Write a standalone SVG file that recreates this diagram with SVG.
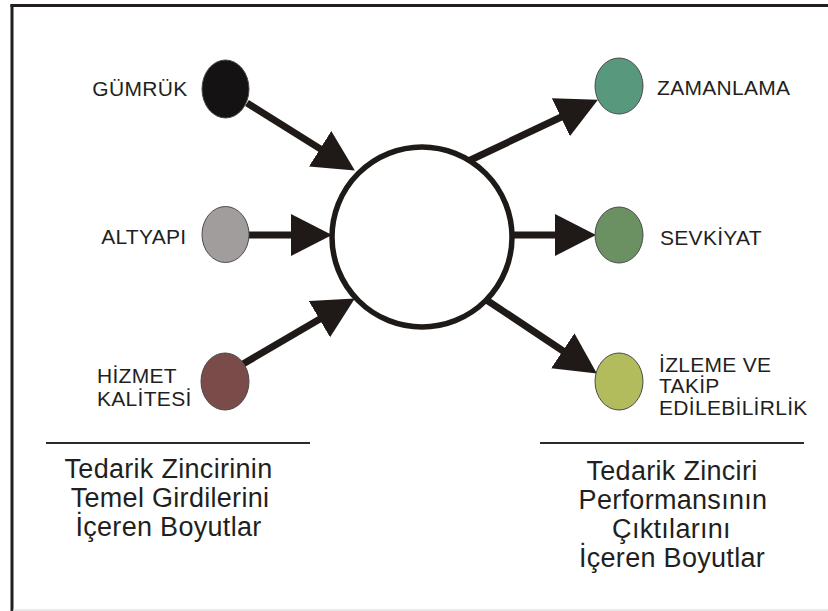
<svg xmlns="http://www.w3.org/2000/svg" width="828" height="611" viewBox="0 0 828 611">
  <defs>
    <marker id="head" markerUnits="userSpaceOnUse" markerWidth="44" markerHeight="44" refX="4" refY="21" orient="auto">
      <path d="M0,0 L41,21 L0,42 Z" fill="#1f1a17"/>
    </marker>
    <style>
      .frame { stroke: #231f20; stroke-width: 3; fill: none; }
      .rule { stroke: #2b2b2b; stroke-width: 2; }
      .conn { stroke: #1f1a17; stroke-width: 7; fill: none; marker-end: url(#head); }
      .dot { stroke: #4a4a4a; stroke-width: 1; }
      .lbl { font-family: "Liberation Sans", Arial, sans-serif; font-size: 21px; fill: #231f20; letter-spacing: 0.3px; }
      .cap { font-family: "Liberation Sans", Arial, sans-serif; font-size: 27px; fill: #231f20; letter-spacing: 0.3px; text-anchor: middle; }
    </style>
  </defs>
  <rect width="828" height="611" fill="#ffffff"/>
  <g id="frame">
    <line class="frame" x1="10.5" y1="5.5" x2="828" y2="5.5"/>
    <line class="frame" x1="12" y1="4" x2="12" y2="611"/>
    <line x1="13" y1="610" x2="828" y2="610" stroke="#e2e2e2" stroke-width="1.5"/>
  </g>
  <g id="connectors">
    <line class="conn" x1="247" y1="103" x2="323.5" y2="150.9"/>
    <line class="conn" x1="249" y1="235" x2="295" y2="235"/>
    <line class="conn" x1="243" y1="364" x2="322.9" y2="317.2"/>
    <line class="conn" x1="462" y1="164" x2="564.5" y2="115.5"/>
    <line class="conn" x1="500" y1="235" x2="559" y2="235"/>
    <line class="conn" x1="470" y1="289" x2="566.1" y2="353"/>
  </g>
  <g id="center">
    <circle cx="422" cy="237" r="90" fill="#ffffff" stroke="#1e1a17" stroke-width="5.5"/>
  </g>
  <g id="gumruk">
    <ellipse class="dot" cx="225.5" cy="89" rx="23.5" ry="29" fill="#141212"/>
    <text class="lbl" x="187.5" y="95.5" text-anchor="end">GÜMRÜK</text>
  </g>
  <g id="altyapi">
    <ellipse class="dot" cx="225.5" cy="234.5" rx="23.5" ry="28" fill="#a29d9d"/>
    <text class="lbl" x="186.5" y="243.5" text-anchor="end">ALTYAPI</text>
  </g>
  <g id="hizmet">
    <ellipse class="dot" cx="225" cy="381.5" rx="24" ry="28.5" fill="#7a4b49"/>
    <text class="lbl" x="97" y="382.5">HİZMET</text>
    <text class="lbl" x="97" y="406">KALİTESİ</text>
  </g>
  <g id="zamanlama">
    <ellipse class="dot" cx="619" cy="86" rx="24" ry="28" fill="#58997e"/>
    <text class="lbl" x="657" y="95">ZAMANLAMA</text>
  </g>
  <g id="sevkiyat">
    <ellipse class="dot" cx="619" cy="235" rx="24" ry="28" fill="#6b9162"/>
    <text class="lbl" x="660" y="245">SEVKİYAT</text>
  </g>
  <g id="izleme">
    <ellipse class="dot" cx="619" cy="381.5" rx="24" ry="28.5" fill="#b3bc5c"/>
    <text class="lbl" x="659" y="372">İZLEME VE</text>
    <text class="lbl" x="659" y="393">TAKİP</text>
    <text class="lbl" x="659" y="414.5">EDİLEBİLİRLİK</text>
  </g>
  <g id="inputs-caption">
    <line class="rule" x1="46" y1="443" x2="310" y2="443"/>
    <text class="cap" x="168.5" y="478">Tedarik Zincirinin</text>
    <text class="cap" x="170" y="507">Temel Girdilerini</text>
    <text class="cap" x="168.5" y="535.5">İçeren Boyutlar</text>
  </g>
  <g id="outputs-caption">
    <line class="rule" x1="540" y1="443" x2="804" y2="443"/>
    <text class="cap" x="672" y="480">Tedarik Zinciri</text>
    <text class="cap" x="673" y="509">Performansının</text>
    <text class="cap" x="671.5" y="538">Çıktılarını</text>
    <text class="cap" x="672" y="567">İçeren Boyutlar</text>
  </g>
</svg>
